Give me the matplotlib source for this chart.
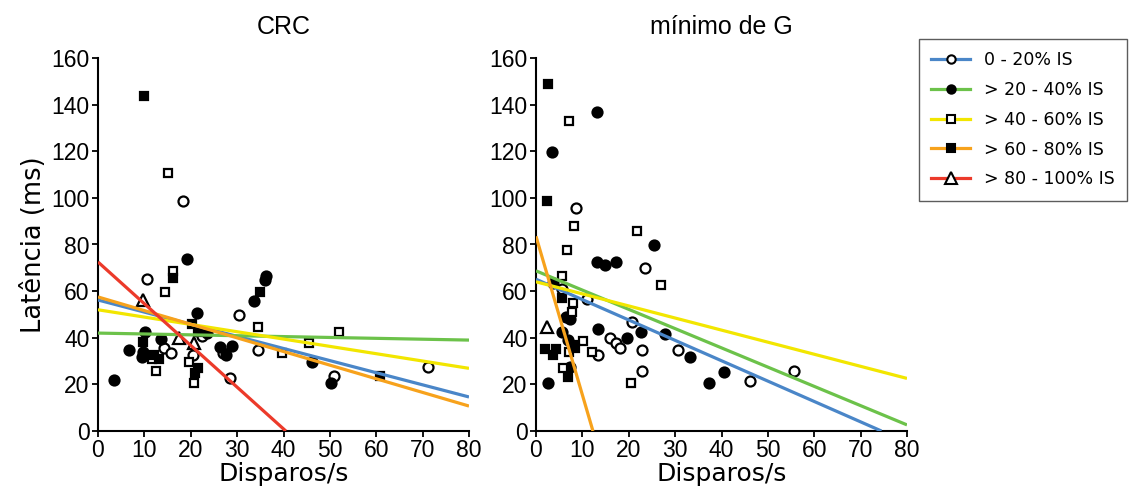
import matplotlib
matplotlib.use("Agg")
import matplotlib.pyplot as plt
from matplotlib.lines import Line2D

plt.rcParams['font.family'] = ['Liberation Sans', 'DejaVu Sans']

# ---------------- data ----------------
categories = ["0 - 20% IS", "> 20 - 40% IS", "> 40 - 60% IS", "> 60 - 80% IS", "> 80 - 100% IS"]
colors = ["#4a86c8", "#6cc24a", "#f2e600", "#f7a21c", "#ec3a2a"]
markers = ["o", "o", "s", "s", "^"]
filled = [False, True, False, True, False]

panel_titles = ["CRC", "mínimo de G"]
x_label = "Disparos/s"
y_label = "Latência (ms)"
x_ticks = [0, 10, 20, 30, 40, 50, 60, 70, 80]
y_ticks = [0, 20, 40, 60, 80, 100, 120, 140, 160]

# CRC panel points
crc_c0_x = [10.6, 18.4, 14.3, 15.7, 20.5, 22.4, 27.0, 28.5, 30.3, 34.4, 50.9, 71.2]
crc_c0_y = [65.0, 98.7, 35.5, 33.6, 32.6, 40.8, 33.6, 22.6, 49.8, 34.8, 23.7, 27.6]
crc_c1_x = [3.5, 6.6, 10.1, 9.8, 9.4, 13.5, 19.1, 21.3, 23.5, 26.3, 27.7, 29.0, 33.6, 36.2, 36.1, 46.1, 50.2]
crc_c1_y = [22.0, 34.8, 42.6, 34.0, 31.9, 39.4, 73.7, 50.8, 42.0, 35.9, 32.6, 36.6, 55.8, 66.7, 64.8, 29.5, 20.7]
crc_c2_x = [15.2, 11.7, 12.4, 14.5, 16.2, 19.6, 20.6, 34.4, 39.6, 45.4, 52.0]
crc_c2_y = [110.7, 31.0, 25.8, 59.8, 68.5, 29.7, 20.5, 44.8, 33.6, 37.6, 42.6]
crc_c3_x = [10.0, 9.8, 13.2, 12.1, 16.1, 21.6, 20.9, 20.2, 21.6, 35.0, 60.8]
crc_c3_y = [143.9, 38.0, 31.0, 32.6, 65.8, 26.9, 24.8, 46.0, 42.6, 59.8, 23.7]
crc_c4_x = [9.8, 17.5, 20.7]
crc_c4_y = [56.0, 40.0, 37.6]

# mínimo de G panel points
ming_c0_x = [8.6, 5.5, 11.1, 13.3, 16.0, 17.2, 18.1, 20.8, 22.8, 22.8, 23.6, 30.6, 46.1, 55.6]
ming_c0_y = [95.8, 61.0, 56.7, 32.6, 39.8, 37.6, 35.5, 46.6, 34.8, 25.8, 69.8, 34.8, 21.6, 25.8]
ming_c1_x = [13.2, 3.4, 3.7, 6.4, 7.3, 5.5, 7.0, 7.3, 2.5, 13.1, 14.9, 17.3, 13.4, 19.6, 22.6, 25.4, 27.8, 33.1, 37.4, 40.6]
ming_c1_y = [136.8, 119.6, 63.4, 49.0, 47.9, 42.6, 39.0, 27.6, 20.5, 72.7, 71.0, 72.7, 43.8, 39.8, 42.6, 79.7, 41.6, 31.9, 20.7, 25.5]
ming_c2_x = [7.2, 8.1, 21.7, 6.6, 5.5, 7.9, 7.7, 7.2, 5.9, 10.1, 12.0, 20.4, 26.9]
ming_c2_y = [132.9, 87.8, 85.8, 77.7, 66.7, 54.8, 50.9, 34.0, 26.9, 38.8, 33.8, 20.5, 62.7]
ming_c3_x = [2.5, 2.4, 5.5, 8.0, 8.4, 6.9, 1.9, 3.7, 4.3]
ming_c3_y = [148.9, 98.7, 57.0, 36.9, 35.5, 23.0, 35.2, 32.6, 35.2]
ming_c4_x = [2.3]
ming_c4_y = [44.8]

# regression lines: intercept, slope (None = not drawn)
crc_intercepts = [56.2, 42.0, 52.0, 57.5, 72.5]
crc_slopes = [-0.52, -0.0375, -0.314, -0.585, -1.79]
ming_intercepts = [65.1, 68.7, 64.0, 83.5, None]
ming_slopes = [-0.874, -0.826, -0.518, -6.8, None]

panels = [
    dict(xs=[crc_c0_x, crc_c1_x, crc_c2_x, crc_c3_x, crc_c4_x],
         ys=[crc_c0_y, crc_c1_y, crc_c2_y, crc_c3_y, crc_c4_y],
         b=crc_intercepts, m=crc_slopes),
    dict(xs=[ming_c0_x, ming_c1_x, ming_c2_x, ming_c3_x, ming_c4_x],
         ys=[ming_c0_y, ming_c1_y, ming_c2_y, ming_c3_y, ming_c4_y],
         b=ming_intercepts, m=ming_slopes),
]

# ---------------- figure ----------------
W, H = 1132, 494
fig = plt.figure(figsize=(W / 100, H / 100), dpi=100)

ax_w = 371 / W
ax_h = 373 / H
ax_b = (H - 431) / H
lefts = [98 / W, 536 / W]

msize = {"o": 7.2, "s": 6.0, "^": 8.5}
wide = ['DejaVu Sans']

for i, p in enumerate(panels):
    ax = fig.add_axes([lefts[i], ax_b, ax_w, ax_h])
    for k in range(len(categories)):
        mk = markers[k]
        ax.plot(p["xs"][k], p["ys"][k], linestyle="none", marker=mk,
                markersize=msize[mk],
                markerfacecolor="black" if filled[k] else "white",
                markeredgecolor="black", markeredgewidth=1.6, zorder=2,
                clip_on=False)
    for k in range(len(categories)):
        b, m = p["b"][k], p["m"][k]
        if b is None:
            continue
        x_end = 80.0
        if m < 0 and -b / m < 80:
            x_end = -b / m
        ax.plot([0, x_end], [b, b + m * x_end], color=colors[k], lw=2.3,
                solid_capstyle="butt", zorder=3)
    ax.set_xlim(0, 80)
    ax.set_ylim(0, 160)
    ax.set_xticks(x_ticks)
    ax.set_yticks(y_ticks)
    for s in ["top", "right"]:
        ax.spines[s].set_visible(False)
    for s in ["left", "bottom"]:
        ax.spines[s].set_linewidth(1.5)
    ax.tick_params(direction="out", length=4, width=1.3, labelsize=16.5, pad=2)
    ax.set_xlabel(x_label, fontsize=18, labelpad=0, family=wide)
    ax.set_title(panel_titles[i], fontsize=18, pad=17)
    if i == 0:
        ax.set_ylabel(y_label, fontsize=18.5, labelpad=3, family=wide)

handles = []
for k in range(len(categories)):
    handles.append(Line2D([0], [0], color=colors[k], lw=2.3, marker=markers[k],
                          markersize={"o": 6, "s": 5.5, "^": 8}[markers[k]],
                          markerfacecolor="black" if filled[k] else "white",
                          markeredgecolor="black", markeredgewidth=1.5))
leg = fig.legend(handles, categories, loc="upper left",
                 bbox_to_anchor=(919 / W, 1 - 39 / H),
                 prop={'family': wide, 'size': 12.5},
                 frameon=True, fancybox=False, edgecolor="#333333",
                 handlelength=2.25, handletextpad=0.8, labelspacing=0.68,
                 borderpad=0.7, borderaxespad=0)
leg.get_frame().set_linewidth(1.0)

fig.savefig("out.png", dpi=100)
